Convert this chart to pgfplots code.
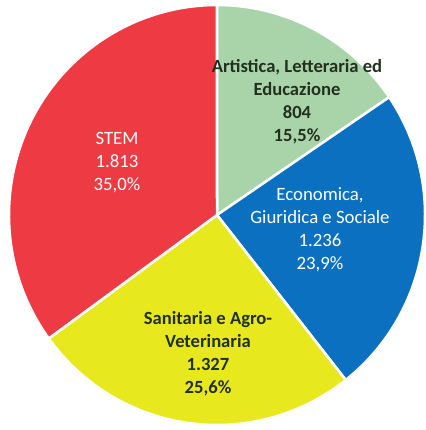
\documentclass[border=0pt]{standalone}
\usepackage{pgfplots}
\usepackage{pgfplotstable}
\usepackage{fontspec}
\setmainfont{Carlito}
\pgfplotsset{compat=1.18}

\definecolor{cgreen}{HTML}{A9D4A9}
\definecolor{cblue}{HTML}{0B70BF}
\definecolor{cyellow}{HTML}{E8E81E}
\definecolor{cred}{HTML}{EE3A43}
\definecolor{cdark}{HTML}{22301F}

% iscritti per area disciplinare
\pgfplotstableread{
area value
Artistica 804
Economica 1236
Sanitaria 1327
STEM 1813
}\pietable

\pgfplotstablegetelem{0}{value}\of\pietable\let\vA\pgfplotsretval
\pgfplotstablegetelem{1}{value}\of\pietable\let\vB\pgfplotsretval
\pgfplotstablegetelem{2}{value}\of\pietable\let\vC\pgfplotsretval
\pgfplotstablegetelem{3}{value}\of\pietable\let\vD\pgfplotsretval
\pgfmathsetmacro\tot{\vA+\vB+\vC+\vD}
% angles, clockwise from the top
\pgfmathsetmacro\aA{90}
\pgfmathsetmacro\aB{\aA-360*(\vA/\tot)}
\pgfmathsetmacro\aC{\aB-360*(\vB/\tot)}
\pgfmathsetmacro\aD{\aC-360*(\vC/\tot)}
\pgfmathsetmacro\aE{\aD-360*(\vD/\tot)}

\newcommand\slice[3]{%
  \fill[#3, draw=white, line width=2.5pt, line join=round]
    (axis cs:217,215) -- ++(#1:208pt and 210pt)
    arc[start angle=#1, end angle=#2, x radius=208pt, y radius=210pt] -- cycle;}

\begin{document}
\begin{tikzpicture}
\begin{axis}[
    hide axis,
    scale only axis,
    width=425pt, height=430pt,
    xmin=0, xmax=425, ymin=0, ymax=430,
    y dir=reverse,
    clip=false,
]
\coordinate (bl) at (axis cs:0,430);
\coordinate (tr) at (axis cs:425,0);
\slice{\aA}{\aB}{cgreen}
\slice{\aB}{\aC}{cblue}
\slice{\aC}{\aD}{cyellow}
\slice{\aD}{\aE}{cred}

\tikzset{lbl/.style={align=center, font=\fontsize{18.8}{23}\selectfont, inner sep=0pt}}
\node[lbl, text=cdark, font=\fontsize{18.6}{23}\selectfont\bfseries] at (axis cs:297,102)
  {Artistica, Letteraria ed\\Educazione\\804\\15,5\%};
\node[lbl, text=white] at (axis cs:320,230)
  {Economica,\\Giuridica e Sociale\\1.236\\23,9\%};
\node[lbl, text=cdark, font=\fontsize{18.6}{23}\selectfont\bfseries] at (axis cs:208,354)
  {Sanitaria e Agro-\\Veterinaria\\1.327\\25,6\%};
\node[lbl, text=white] at (axis cs:117,163)
  {STEM\\1.813\\35,0\%};
\end{axis}
\pgfresetboundingbox
\useasboundingbox (bl) rectangle (tr);
\end{tikzpicture}
\end{document}
